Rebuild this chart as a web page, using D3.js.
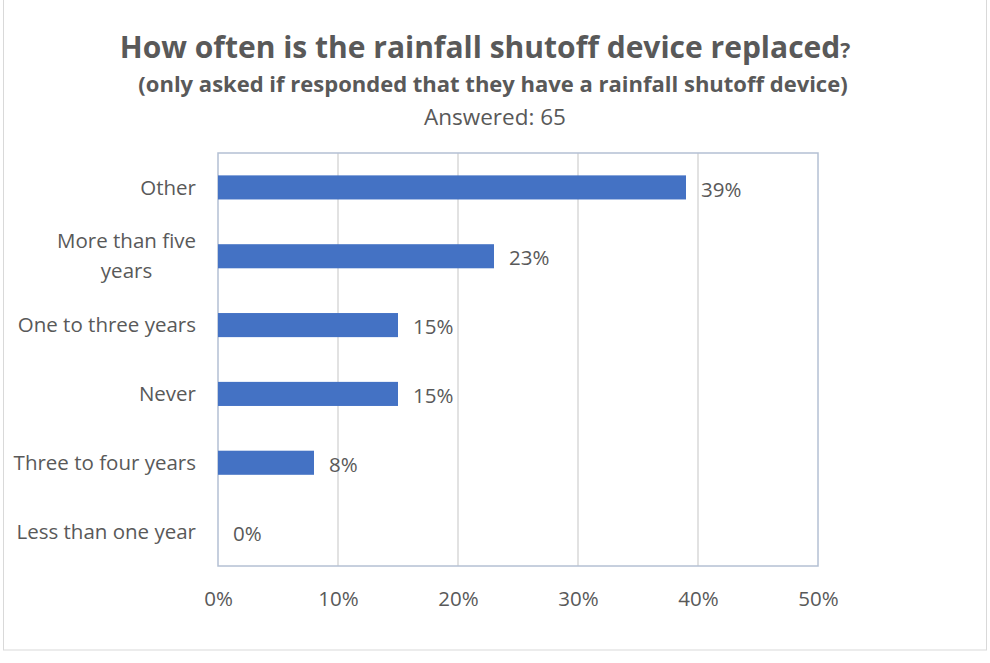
<!DOCTYPE html>
<html><head><meta charset="utf-8">
<script src="https://cdn.jsdelivr.net/npm/d3@7"></script>
<style>body{margin:0;background:#fff}svg{display:block}text{font-family:"Open Sans",sans-serif;fill:#595959}</style>
</head><body><svg id="c" width="990" height="663"></svg>
<script>
const categories = ["Other","More than five years","One to three years","Never","Three to four years","Less than one year"];
const values = [0.39,0.23,0.15,0.15,0.08,0.00];
const valueLabels = ["39%","23%","15%","15%","8%","0%"];
const tickValues = [0,0.1,0.2,0.3,0.4,0.5];
const tickLabels = ["0%","10%","20%","30%","40%","50%"];
const title = "How often is the rainfall shutoff device replaced";
const subtitle = "(only asked if responded that they have a rainfall shutoff device)";
const answered = "Answered: 65";

const svg = d3.select("#c");
svg.append("rect").attr("x",3.5).attr("y",-1).attr("width",983).attr("height",651).attr("fill","#fff").attr("stroke","#d9d9d9");

const m = {l:218,r:818,t:153,b:566};
const x = d3.scaleLinear().domain([0,0.5]).range([m.l,m.r]);
const y = d3.scaleBand().domain(categories).range([m.t,m.b]).paddingInner(0.65).paddingOuter(0.325);
const fs = 20.5;

// gridlines
svg.append("g").selectAll("line").data(tickValues.slice(1,-1)).join("line")
  .attr("x1",d=>x(d)).attr("x2",d=>x(d)).attr("y1",m.t).attr("y2",m.b)
  .attr("stroke","#d9d9d9").attr("stroke-width",1.5);
svg.append("rect").attr("x",m.l).attr("y",m.t).attr("width",m.r-m.l).attr("height",m.b-m.t)
  .attr("fill","none").attr("stroke","#b4c0d3").attr("stroke-width",1.5);

// bars
svg.append("g").selectAll("rect").data(values).join("rect")
  .attr("x",x(0)).attr("y",(d,i)=>y(categories[i])).attr("width",d=>x(d)-x(0)).attr("height",y.bandwidth())
  .attr("fill","#4472c4");

// value labels
svg.append("g").selectAll("text").data(values).join("text")
  .attr("x",d=>x(d)+15).attr("y",(d,i)=>y(categories[i])+y.bandwidth()/2+2).attr("dy","0.35em")
  .attr("font-size",fs).text((d,i)=>valueLabels[i]);

// x axis tick labels
const xAxis = d3.axisBottom(x).tickValues(tickValues).tickFormat((d,i)=>tickLabels[i]).tickSize(0).tickPadding(25);
const gx = svg.append("g").attr("transform",`translate(0,${m.b})`).call(xAxis);
gx.select(".domain").remove();
gx.selectAll("text").attr("font-size",fs).attr("fill","#595959").style("font-family",'"Open Sans",sans-serif');

// y axis labels
const yAxis = d3.axisLeft(y).tickSize(0).tickPadding(22);
const gy = svg.append("g").attr("transform",`translate(${m.l},0)`).call(yAxis);
gy.select(".domain").remove();
gy.selectAll("text").attr("font-size",fs).attr("fill","#595959").style("font-family",'"Open Sans",sans-serif')
  .attr("dy","0.35em")
  .each(function(d){
    if(d==="More than five years"){
      const t=d3.select(this); t.text(null).attr("dy",null).attr("text-anchor","middle");
      const a=t.append("tspan").attr("dy","-0.4em").text("More than five");
      const w=a.node().getComputedTextLength();
      const cx=-22-w/2;
      a.attr("x",cx);
      t.append("tspan").attr("x",cx).attr("dy","1.45em").text("years");
    }
  });

// titles
const tt = svg.append("text").attr("x",485).attr("y",58).attr("text-anchor","middle").attr("font-size",30).attr("font-weight","bold");
tt.append("tspan").text(title);
tt.append("tspan").attr("font-size",21).text("?");
svg.append("text").attr("x",493).attr("y",92).attr("text-anchor","middle").attr("font-size",22).attr("font-weight","bold").text(subtitle);
svg.append("text").attr("x",495).attr("y",125).attr("text-anchor","middle").attr("font-size",22.5).text(answered);
</script></body></html>
